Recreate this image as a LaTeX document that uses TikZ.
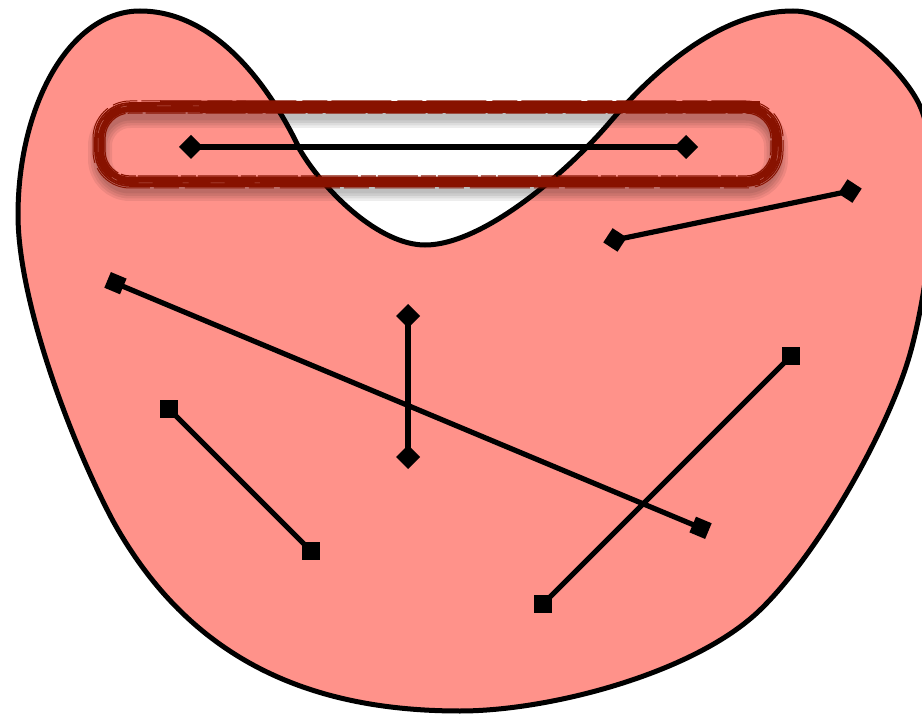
\documentclass[tikz,border=0pt]{standalone}
\usetikzlibrary{arrows.meta}
\definecolor{salmon}{RGB}{255,146,138}
\definecolor{brush}{RGB}{136,18,0}
\tikzset{
  outline/.style={draw=black, line width=5pt, fill=salmon},
  seg/.style={draw=black, line width=5.2pt},
  sqend/.style={rectangle, fill=black, minimum size=18pt, inner sep=0pt},
  dtips/.style={{Diamond[length=24pt,width=24pt]}-{Diamond[length=24pt,width=24pt]}},
  stips/.style={{Square[length=17pt,width=17pt]}-{Square[length=17pt,width=17pt]}},
  brushline/.style={draw=brush, line width=#1},
  shade/.style={draw=black, opacity=0.07, line width=#1}
}
\begin{document}
\begin{tikzpicture}[x=1pt,y=-1pt]
\useasboundingbox (0,0) rectangle (922,714);
\clip (0,0) rectangle (922,714);
% blob
\path[outline] (140,11)
  .. controls (230,11) and (285,118) .. (300,150)
  .. controls (325.5,193) and (380,245) .. (425,245)
  .. controls (485,245) and (571,168) .. (610,122)
  .. controls (646,80) and (715,11) .. (793,11)
  .. controls (840,11) and (897,64) .. (917,100)
  .. controls (946,152) and (929,287) .. (910,354)
  .. controls (888,431) and (818,554) .. (760,610)
  .. controls (695,673) and (550,711) .. (460,711)
  .. controls (310,711) and (190,660) .. (113,521)
  .. controls (70,440) and (18,300) .. (18,215)
  .. controls (18,105) and (70,11) .. (140,11) -- cycle;
% pill shadow
\foreach \w in {24,19,14,9}{
  \draw[shade=\w pt, rounded corners=30pt] (100,116) rectangle (776,189);
}
% pill brush strokes
\draw[brushline=8.5pt, rounded corners=30pt] (100,108) rectangle (776,181);
\draw[brushline=1.6pt, rounded corners=35pt] (95,103) rectangle (781,186);
\draw[brushline=1.2pt, rounded corners=25pt, dash pattern=on 40pt off 3pt on 15pt off 2pt] (105,113) rectangle (771,176);
\draw[brushline=1pt, rounded corners=37pt, dash pattern=on 25pt off 6pt on 60pt off 4pt] (93,101) rectangle (783,188);
\draw[draw=salmon!60!white, line width=0.5pt, opacity=0.45, rounded corners=32pt, dash pattern=on 14pt off 30pt on 6pt off 22pt] (98,106) rectangle (778,183);
% thicker bands
\draw[brushline=12pt] (200,107) -- (760,107);
\draw[brushline=3pt] (160,102) -- (500,103);
\draw[brushline=8pt] (260,181) -- (760,181);
% segments
\coordinate (h1) at (179,147);
\coordinate (h2) at (698,147);
\draw[seg, dtips] (h1) -- (h2);
\coordinate (t1) at (603.3,242.4);
\coordinate (t2) at (861.7,188.6);
\draw[seg, dtips] (t1) -- (t2);
\coordinate (v1) at (408,304);
\coordinate (v2) at (408,469);
\draw[seg, dtips] (v1) -- (v2);
\coordinate (l1) at (107.6,279.9);
\coordinate (l2) at (708.4,531.1);
\draw[seg, stips] (l1) -- (l2);
\node[sqend] (a1) at (169,409) {};
\node[sqend] (a2) at (311,551) {};
\draw[seg] (a1.center) -- (a2.center);
\node[sqend] (b1) at (543,604) {};
\node[sqend] (b2) at (791,356) {};
\draw[seg] (b1.center) -- (b2.center);
\end{tikzpicture}
\end{document}
